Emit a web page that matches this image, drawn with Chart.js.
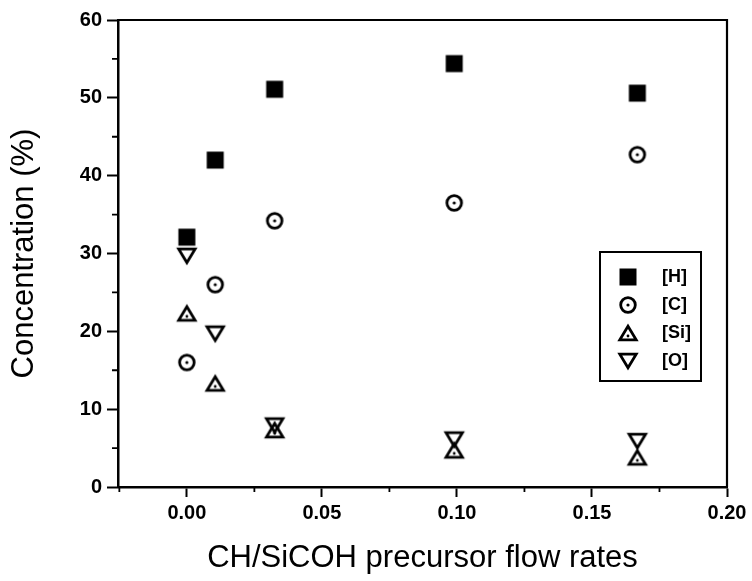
<!DOCTYPE html>
<html>
<head>
<meta charset="utf-8">
<script src="https://cdn.jsdelivr.net/npm/chart.js@4"></script>
<style>
html, body { margin: 0; padding: 0; background: #fff; }
#wrap { width: 752px; height: 581px; }
</style>
</head>
<body>
<div id="wrap"><canvas id="c" width="752" height="581"></canvas></div>
<script>
// ---- data ----
const flowRates = [0, 0.0105, 0.0325, 0.099, 0.1668];
const hydrogen  = [32.1, 42.0, 51.1, 54.4, 50.6];
const carbon    = [16.0, 26.0, 34.2, 36.5, 42.7];
const silicon   = [22.3, 13.3, 7.3, 4.7, 3.8];
const oxygen    = [29.7, 19.7, 7.9, 6.1, 5.9];
const seriesLabels = ['[H]', '[C]', '[Si]', '[O]'];

const xTickValues = [-0.025, 0, 0.025, 0.05, 0.075, 0.1, 0.125, 0.15, 0.175, 0.2];
const xTickLabels = ['', '0.00', '', '0.05', '', '0.10', '', '0.15', '', '0.20'];
const yTickValues = [0, 5, 10, 15, 20, 25, 30, 35, 40, 45, 50, 55, 60];
const yTickLabels = ['0', '', '10', '', '20', '', '30', '', '40', '', '50', '', '60'];

const xTitle = 'CH/SiCOH precursor flow rates';
const yTitle = 'Concentration (%)';

// ---- marker images ----
function makeMarker(kind) {
  const s = 26, m = s / 2;
  const c = document.createElement('canvas');
  c.width = s; c.height = s;
  const g = c.getContext('2d');
  g.strokeStyle = '#000'; g.fillStyle = '#000'; g.lineWidth = 2.8; g.lineJoin = 'miter';
  if (kind === 'square') {
    g.fillRect(m - 8.5, m - 8.5, 17, 17);
  } else if (kind === 'circle') {
    g.beginPath(); g.arc(m, m, 7.3, 0, Math.PI * 2); g.stroke();
    g.beginPath(); g.arc(m, m, 1.6, 0, Math.PI * 2); g.fill();
  } else if (kind === 'up') {
    g.beginPath(); g.moveTo(m, m - 6.8); g.lineTo(m + 8.2, m + 6.8); g.lineTo(m - 8.2, m + 6.8); g.closePath(); g.stroke();
    g.beginPath(); g.arc(m, m + 3, 1.4, 0, Math.PI * 2); g.fill();
  } else if (kind === 'down') {
    g.beginPath(); g.moveTo(m, m + 6.8); g.lineTo(m + 8.2, m - 6.8); g.lineTo(m - 8.2, m - 6.8); g.closePath(); g.stroke();
  }
  return c;
}
const markers = [makeMarker('square'), makeMarker('circle'), makeMarker('up'), makeMarker('down')];
const seriesValues = [hydrogen, carbon, silicon, oxygen];

const FONT = '"Liberation Sans", Arial, Helvetica, sans-serif';
Chart.defaults.font.family = FONT;
Chart.defaults.color = '#000';

// frame (top/right) and minor ticks
const framePlugin = {
  id: 'frame',
  afterDraw(chart) {
    const { ctx, chartArea: a, scales } = chart;
    ctx.save();
    ctx.strokeStyle = '#000';
    ctx.lineWidth = 2.2;
    ctx.beginPath();
    ctx.moveTo(a.left, a.top); ctx.lineTo(a.right, a.top); ctx.lineTo(a.right, a.bottom);
    ctx.stroke();
    ctx.lineWidth = 1.8;
    ctx.beginPath();
    scales.x.ticks.forEach((t, i) => {
      if (!xTickLabels[i]) {
        const px = scales.x.getPixelForValue(t.value);
        ctx.moveTo(px, a.bottom); ctx.lineTo(px, a.bottom + 5);
      }
    });
    scales.y.ticks.forEach((t, i) => {
      if (!yTickLabels[i]) {
        const py = scales.y.getPixelForValue(t.value);
        ctx.moveTo(a.left, py); ctx.lineTo(a.left - 6, py);
      }
    });
    ctx.stroke();
    ctx.restore();
  }
};

// boxed legend inside the plot
const boxLegend = {
  id: 'boxLegend',
  afterDatasetsDraw(chart) {
    const { ctx, chartArea: a } = chart;
    const left = a.right - 127, top = a.top + 232, w = 101, h = 129;
    ctx.save();
    ctx.lineWidth = 2;
    ctx.strokeStyle = '#000';
    ctx.strokeRect(left, top, w, h);
    ctx.font = 'bold 18px ' + FONT;
    ctx.textBaseline = 'middle';
    ctx.textAlign = 'left';
    ctx.fillStyle = '#000';
    chart.data.datasets.forEach((ds, i) => {
      const y = top + 25 + i * 28;
      const img = ds.pointStyle;
      ctx.drawImage(img, left + 28 - img.width / 2, y - img.height / 2);
      ctx.fillText(ds.label, left + 62, y);
    });
    ctx.restore();
  }
};

new Chart(document.getElementById('c'), {
  type: 'scatter',
  data: {
    datasets: seriesLabels.map((lab, k) => ({
      label: lab,
      data: flowRates.map((x, i) => ({ x: x, y: seriesValues[k][i] })),
      pointStyle: markers[k],
      pointRadius: 8,
      pointHoverRadius: 8,
      showLine: false
    }))
  },
  options: {
    responsive: false,
    animation: false,
    devicePixelRatio: 1,
    layout: { padding: { top: 20, right: 25, left: 0, bottom: 0 } },
    plugins: { legend: { display: false }, tooltip: { enabled: false } },
    scales: {
      x: {
        type: 'linear',
        min: -0.0255,
        max: 0.2,
        afterBuildTicks: s => { s.ticks = xTickValues.map(v => ({ value: v })); },
        afterFit: s => { s.height = 94; },
        border: { display: true, width: 2.5, color: '#000' },
        grid: {
          display: true, drawOnChartArea: false, drawTicks: true,
          tickLength: 10, tickWidth: 2,
          tickColor: c => (xTickLabels[c.index] ? '#000' : 'rgba(0,0,0,0)')
        },
        ticks: {
          autoSkip: false, maxRotation: 0, minRotation: 0, padding: 4, color: '#000',
          font: { family: FONT, size: 20, weight: 'bold' },
          callback: (v, i) => xTickLabels[i]
        },
        title: {
          display: true, text: xTitle, color: '#000',
          font: { family: FONT, size: 31, weight: 'normal' },
          padding: { top: 0, bottom: 4 }
        }
      },
      y: {
        type: 'linear',
        min: 0,
        max: 60,
        afterBuildTicks: s => { s.ticks = yTickValues.map(v => ({ value: v })); },
        afterFit: s => { s.width = 118; },
        border: { display: true, width: 2.5, color: '#000' },
        grid: {
          display: true, drawOnChartArea: false, drawTicks: true,
          tickLength: 11, tickWidth: 2,
          tickColor: c => (yTickLabels[c.index] ? '#000' : 'rgba(0,0,0,0)')
        },
        ticks: {
          autoSkip: false, padding: 5, color: '#000',
          font: { family: FONT, size: 20, weight: 'bold' },
          callback: (v, i) => yTickLabels[i]
        },
        title: {
          display: true, text: yTitle, color: '#000',
          font: { family: FONT, size: 31, weight: 'normal' },
          padding: { top: 6, bottom: 0 }
        }
      }
    }
  },
  plugins: [framePlugin, boxLegend]
});
</script>
</body>
</html>
